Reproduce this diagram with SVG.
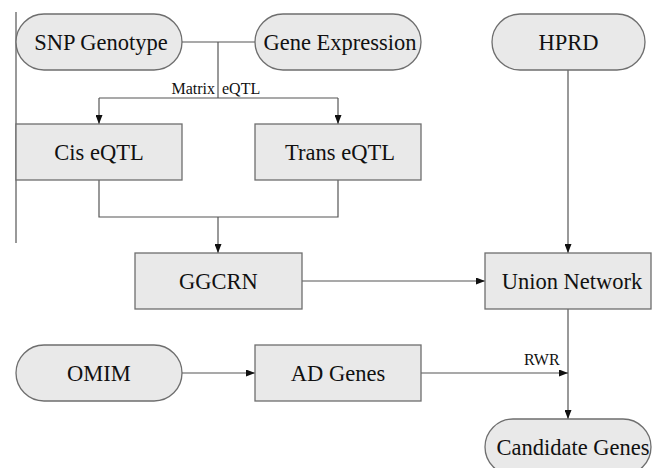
<svg xmlns="http://www.w3.org/2000/svg" width="657" height="468" viewBox="0 0 657 468">
<defs>
<marker id="arr" markerWidth="9" markerHeight="7" refX="9" refY="3.5" orient="auto" markerUnits="userSpaceOnUse">
<path d="M0,0 L9,3.5 L0,7 z" fill="#111"/>
</marker>
<style>
.node{fill:#e9e9e9;stroke:#6e6e6e;stroke-width:1.3}
.t{font-family:"Liberation Serif","Times New Roman",serif;font-size:22.5px;fill:#111;text-anchor:middle}
.lbl{font-family:"Liberation Serif","Times New Roman",serif;font-size:16px;fill:#111}
.c{fill:none;stroke:#555;stroke-width:1.2}
</style>
</defs>
<rect width="657" height="468" fill="#fff"/>
<g id="connectors">
<path class="c" d="M16,12 V243"/>
<path class="c" d="M182,42 H255"/>
<path class="c" d="M218,42 V98"/>
<path class="c" d="M99,98 H338"/>
<path class="c" d="M99,98 V124" marker-end="url(#arr)"/>
<path class="c" d="M338,98 V124" marker-end="url(#arr)"/>
<path class="c" d="M99,180 V217 H338 V180"/>
<path class="c" d="M218,217 V253" marker-end="url(#arr)"/>
<path class="c" d="M302,281 H485" marker-end="url(#arr)"/>
<path class="c" d="M568,70 V253" marker-end="url(#arr)"/>
<path class="c" d="M568,309 V419" marker-end="url(#arr)"/>
<path class="c" d="M182,373 H255" marker-end="url(#arr)"/>
<path class="c" d="M421,373 H568" marker-end="url(#arr)"/>
<text class="lbl" x="215" y="94" text-anchor="end">Matrix</text>
<text class="lbl" x="222" y="94">eQTL</text>
<text class="lbl" x="524" y="365">RWR</text>
</g>
<g id="snp"><rect class="node" x="16" y="14" width="166" height="56" rx="28"/><text class="t" x="101" y="50">SNP Genotype</text></g>
<g id="gene"><rect class="node" x="255" y="14" width="166" height="56" rx="28"/><text class="t" x="340" y="50">Gene Expression</text></g>
<g id="hprd"><rect class="node" x="492" y="14" width="153" height="56" rx="28"/><text class="t" x="568.5" y="50">HPRD</text></g>
<g id="cis"><rect class="node" x="16" y="124" width="166" height="56"/><text class="t" x="99" y="160">Cis eQTL</text></g>
<g id="trans"><rect class="node" x="255" y="124" width="166" height="56"/><text class="t" x="340" y="160">Trans eQTL</text></g>
<g id="ggcrn"><rect class="node" x="135" y="253" width="167" height="56"/><text class="t" x="218.5" y="289">GGCRN</text></g>
<g id="union"><rect class="node" x="485" y="253" width="166" height="56"/><text class="t" x="572" y="289">Union Network</text></g>
<g id="omim"><rect class="node" x="16" y="345" width="166" height="56" rx="28"/><text class="t" x="99" y="381">OMIM</text></g>
<g id="adgenes"><rect class="node" x="255" y="345" width="166" height="56"/><text class="t" x="338" y="381">AD Genes</text></g>
<g id="candidate"><rect class="node" x="485" y="419" width="166" height="56" rx="28"/><text class="t" x="573" y="455">Candidate Genes</text></g>
</svg>
